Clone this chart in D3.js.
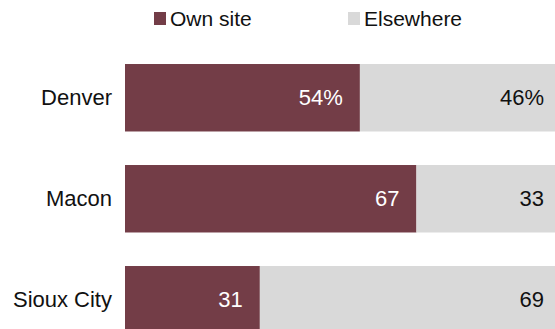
<!DOCTYPE html>
<html>
<head>
<meta charset="utf-8">
<script src="https://cdn.jsdelivr.net/npm/d3@7"></script>
<style>
  body { margin: 0; background: #fff; }
  svg { display: block; font-family: "Liberation Sans", Arial, sans-serif; }
</style>
</head>
<body>
<div id="chart"></div>
<script>
// données
const cities = ["Denver", "Macon", "Sioux City"];
const ownSite = [54, 67, 31];
const elsewhere = [46, 33, 69];
const seriesNames = ["Own site", "Elsewhere"];
const colors = ["#733d47", "#d9d9d9"];

const width = 555;
const height = 329;

const svg = d3.select("#chart")
  .append("svg")
  .attr("width", width)
  .attr("height", height);

const x = d3.scaleLinear().domain([0, 100]).range([125, 560]);

const y = d3.scaleBand()
  .domain(cities)
  .range([47.25, 350.25])
  .paddingInner(0.332)
  .paddingOuter(0.166);

// légende
const legendX = [154, 348];
seriesNames.forEach((name, i) => {
  svg.append("rect")
    .attr("x", legendX[i])
    .attr("y", 12)
    .attr("width", 12)
    .attr("height", 13)
    .attr("fill", colors[i]);
  svg.append("text")
    .attr("x", legendX[i] + 16)
    .attr("y", 26)
    .attr("font-size", 21)
    .attr("fill", "#111")
    .text(name);
});

const rows = svg.selectAll("g.row")
  .data(cities)
  .join("g")
  .attr("class", "row");

// barres "Own site"
rows.append("rect")
  .attr("x", x(0))
  .attr("y", d => y(d))
  .attr("width", (d, i) => x(ownSite[i]) - x(0))
  .attr("height", y.bandwidth())
  .attr("fill", colors[0]);

// barres "Elsewhere"
rows.append("rect")
  .attr("x", (d, i) => x(ownSite[i]))
  .attr("y", d => y(d))
  .attr("width", (d, i) => x(ownSite[i] + elsewhere[i]) - x(ownSite[i]))
  .attr("height", y.bandwidth())
  .attr("fill", colors[1]);

// noms des villes
rows.append("text")
  .attr("x", 112)
  .attr("y", d => y(d) + y.bandwidth() / 2)
  .attr("dy", "0.35em")
  .attr("text-anchor", "end")
  .attr("font-size", 22)
  .attr("fill", "#111")
  .text(d => d);

// valeurs
rows.append("text")
  .attr("x", (d, i) => x(ownSite[i]) - 17)
  .attr("y", d => y(d) + y.bandwidth() / 2)
  .attr("dy", "0.35em")
  .attr("text-anchor", "end")
  .attr("font-size", 22)
  .attr("fill", "#fff")
  .text((d, i) => ownSite[i] + (i === 0 ? "%" : ""));

rows.append("text")
  .attr("x", x(100) - 16)
  .attr("y", d => y(d) + y.bandwidth() / 2)
  .attr("dy", "0.35em")
  .attr("text-anchor", "end")
  .attr("font-size", 22)
  .attr("fill", "#111")
  .text((d, i) => elsewhere[i] + (i === 0 ? "%" : ""));
</script>
</body>
</html>
